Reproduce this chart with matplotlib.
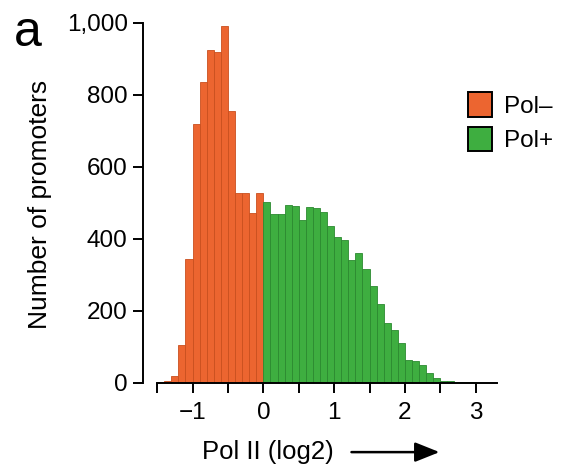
import numpy as np
import matplotlib
matplotlib.use('Agg')
import matplotlib.pyplot as plt
from matplotlib.patches import Patch

plt.rcParams['font.family'] = ['Liberation Sans', 'DejaVu Sans']

# histogram counts, bin width 0.1 (log2 Pol II)
bin_width = 0.1
pol_minus_start = -1.5
pol_minus = [2, 6, 19, 105, 344, 720, 837, 926, 919, 991, 755, 527, 527, 472, 527]
pol_plus_start = 0.0
pol_plus = [502, 470, 470, 495, 493, 454, 488, 486, 475, 435, 405, 396, 343, 360, 316,
            270, 220, 166, 146, 112, 63, 61, 51, 28, 14, 6, 5, 4, 3, 3]

x_ticks = [-1, 0, 1, 2, 3]
x_ticklabels = ['\u22121', '0', '1', '2', '3']
y_ticks = [0, 200, 400, 600, 800, 1000]
y_ticklabels = ['0', '200', '400', '600', '800', '1,000']

orange = '#EC6530'
green = '#3EAE40'

fig = plt.figure(figsize=(5.67, 4.69), dpi=100)
ax = fig.add_axes([0.2522, 0.1834, 0.6243, 0.7676])

left_minus = pol_minus_start + bin_width * np.arange(len(pol_minus))
left_plus = pol_plus_start + bin_width * np.arange(len(pol_plus))
ax.bar(left_minus, pol_minus, width=bin_width, align='edge', color=orange,
       edgecolor='#C9501F', linewidth=0.6)
ax.bar(left_plus, pol_plus, width=bin_width, align='edge', color=green,
       edgecolor='#2C8A30', linewidth=0.6)

ax.set_xlim(-1.7, 3.3)
ax.set_ylim(0, 1000)
ax.spines['top'].set_visible(False)
ax.spines['right'].set_visible(False)
ax.spines['bottom'].set_bounds(-1.5, 3.3)
ax.spines['left'].set_linewidth(1.4)
ax.spines['bottom'].set_linewidth(1.4)

ax.set_xticks(np.arange(-1.5, 3.01, 0.5), minor=True)
ax.set_xticks(x_ticks)
ax.set_xticklabels(x_ticklabels, fontsize=17.5)
ax.set_yticks(y_ticks)
ax.set_yticklabels(y_ticklabels, fontsize=17.5)
ax.tick_params(axis='both', which='both', direction='out', length=7, width=1.4)
ax.tick_params(axis='x', pad=7)
ax.tick_params(axis='y', pad=4)

fig.text(0.07, 0.565, 'Number of promoters', rotation=90, fontsize=19,
         ha='center', va='center')
fig.text(0.472, 0.036, 'Pol II (log2)', fontsize=18.5, ha='center', va='center')
fig.text(0.025, 0.93, 'a', fontsize=36, ha='left', va='center')

ax.annotate('', xy=(0.78, 0.036), xytext=(0.615, 0.036), xycoords='figure fraction',
            arrowprops=dict(arrowstyle='-|>,head_length=1.5,head_width=0.6',
                            color='black', lw=1.8))

handles = [Patch(facecolor=orange, edgecolor='black', linewidth=1.4),
           Patch(facecolor=green, edgecolor='black', linewidth=1.4)]
fig.legend(handles, ['Pol\u2013', 'Pol+'], loc='upper left',
           bbox_to_anchor=(0.825, 0.803), frameon=False, fontsize=17.5,
           handlelength=1.0, handleheight=1.2, handletextpad=0.5, labelspacing=0.35,
           borderaxespad=0, borderpad=0)

fig.savefig('out.png', dpi=100)
